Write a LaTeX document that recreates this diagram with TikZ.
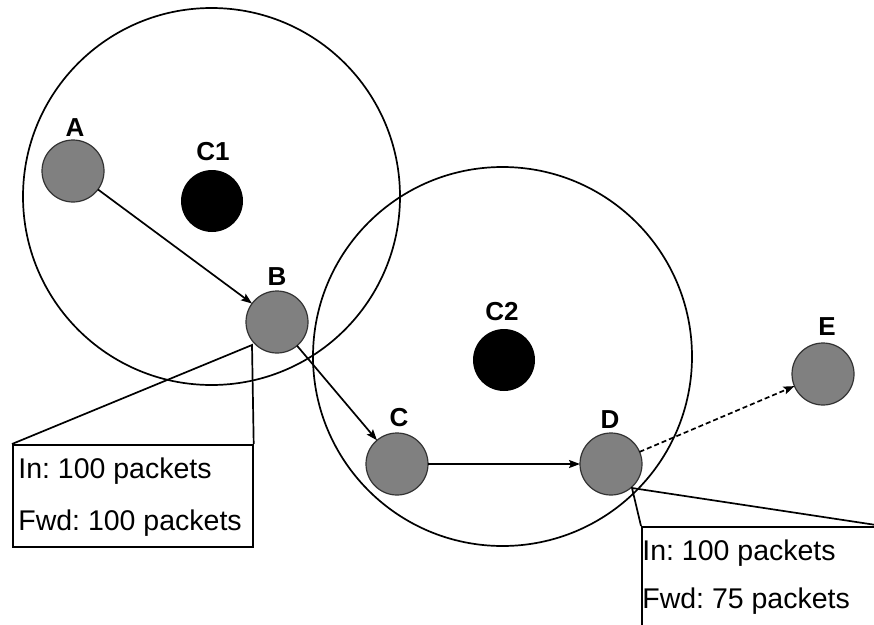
\documentclass[tikz,border=0pt]{standalone}
\usepackage{fontspec}
\setmainfont{Liberation Sans}
\usetikzlibrary{arrows.meta, positioning}
\tikzset{>={Stealth[length=11pt, width=8pt, inset=2pt]}}
\frenchspacing

\begin{document}
\begin{tikzpicture}[x=1pt, y=-1pt, line width=1.7pt,
	zone/.style={circle, draw, inner sep=0pt, minimum size=#1},
	host/.style={circle, fill=gray, draw=black!80, line width=1.2pt, inner sep=0pt, outer sep=0pt, minimum size=62pt},
	head/.style={circle, fill=black, inner sep=0pt, minimum size=62pt},
	tag/.style={font=\bfseries\fontsize{26}{30}\selectfont, inner sep=0pt},
	info/.style={draw, anchor=north west, inner sep=0pt},
	txt/.style={font=\fontsize{28.5}{34}\selectfont, anchor=base west, inner sep=0pt}]
		\useasboundingbox (0,0) rectangle (874,624);
		\fill[white] (0,0) rectangle (874,624);
		\node[zone=377pt] (Z1) at (211.5,196.5) {};
		\node[zone=379pt] (Z2) at (502.5,356.5) {};
		\node[host] (A) at (73,171) {};
		\node[head] (C1) at (212,201) {};
		\node[host] (B) at (277,322) {};
		\node[head] (C2) at (504,360) {};
		\node[host] (C) at (397,464) {};
		\node[host] (D) at (611,464) {};
		\node[host] (E) at (823,374) {};
		\node[tag] (lA) at (75,128) {A};  \node[tag] (lC1) at (213,152) {C1};
		\node[tag] (lB) at (277,277) {B};  \node[tag] (lC2) at (502,312) {C2};
		\node[tag] (lC) at (399,418) {C};  \node[tag] (lD) at (610,420) {D};
		\node[tag] (lE) at (827,327) {E};
		\draw[->] (A)--(B); \draw[->] (B)--(C); \draw[->] (C)--(D);
		\draw[->, dashed, dash pattern=on 5pt off 3pt] (D)--(E);
		\node[info, minimum width=240pt, minimum height=102pt] (boxB) at (12,444) {};
		\coordinate (tipB) at (252,345);
		\draw (boxB.north west)--(tipB)--(boxB.north east);
		\node[txt] (inB) at (17.5,478) {In: 100 packets};
		\node[txt] (fwdB) at (17.5,530) {Fwd: 100 packets};
		\node[info, minimum width=240pt, minimum height=114pt] (boxD) at (641,526) {};
		\coordinate (tipD) at (632,488);
		\draw (boxD.north west)--(tipD)--(boxD.north east);
		\node[txt] (inD) at (641.5,560) {In: 100 packets};
		\node[txt] (fwdD) at (641.5,608) {Fwd: 75 packets};
\end{tikzpicture}
\end{document}
